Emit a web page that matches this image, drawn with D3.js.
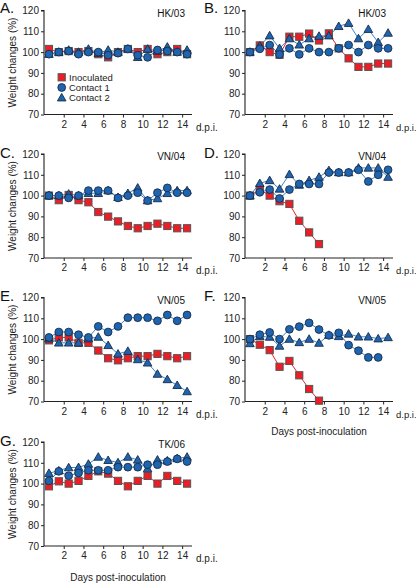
<!DOCTYPE html>
<html><head><meta charset="utf-8">
<script src="https://cdn.jsdelivr.net/npm/d3@7"></script>
<style>
html,body{margin:0;padding:0;background:#fff;}
svg{display:block;font-family:"Liberation Sans",Arial,sans-serif;}
</style></head>
<body><svg id="c" width="416" height="584"></svg>
<script>
const days = d3.range(15).map(i => i + 0.5);
const xTicks = [2,4,6,8,10,12,14];
const yTicks = [70,80,90,100,110,120];
const seriesNames = ["Inoculated","Contact 1","Contact 2"];
const panelLetters = ["A.","B.","C.","D.","E.","F.","G."];
const panelStrains = ["HK/03","HK/03","VN/04","VN/04","VN/05","VN/05","TK/06"];

const inocA = [101.5,100,100.5,100,100.5,99,97.5,100,101.5,100,101.5,99,100,101.5,99];
const c1A   = [99,100,100.5,99,100,100,98.5,99.5,101.5,98.5,97.5,101,100.5,100,99];
const c2A   = [99,100,101,100,101.5,99.5,101,100,101.5,97.5,101.5,100.5,102.5,100,101];

const inocB = [100,103.2,100,98.7,107.4,107.4,108.9,105.6,109,101.8,97,92.9,92.9,94.5,94.5];
const c1B   = [100,101.6,103.4,98.9,101.8,98.9,101.8,100,100,101.8,103.4,100,103.4,101.8,101.8];
const c2B   = [100,103,107.9,101.8,106.5,103.5,106.5,107.7,107.9,112.4,113.9,106.5,111,104.7,109.2];

const inocC = [100,97.8,100.3,97.8,96.8,92.1,89.9,87.6,85.4,84.3,85.4,86.5,85.4,84.3,84.3];
const c1C   = [100,100,98.9,100,102.4,102.4,102.4,98.9,100,101.4,97.6,101.4,103.7,101.4,101.4];
const c2C   = [100,100,100.8,100,101.1,101.1,102.4,99.2,101.1,103.7,97.6,98.6,101.1,102.4,102.4];

const inocD = [100,102.9,100,97.3,96,87.9,82.3,76.7];
const c1D   = [100,101.6,102.9,98.6,102.9,105.6,105.6,105.6,111.1,111.1,111.1,112.4,106.8,110,112.4];
const c2D   = [100,105.9,107.3,103.2,110.2,105.1,107.3,108.9,112.1,111.1,111.1,113.3,113.3,113.3,108.9];

const inocE = [99.4,100.8,100.8,98.2,98.2,94.5,90.8,89.8,90.8,91.8,91.8,92.9,91.8,90.8,91.8];
const c1E   = [100.8,103.4,103.4,102.1,100.8,106.1,103.4,106.1,110.3,110.3,110.3,108.8,111.6,108.8,111.6];
const c2E   = [100.2,98.2,98.2,98.2,100.2,101,97,92.9,94.2,90.2,88.6,83.2,80.6,77.8,74.8];

const inocF = [100,97.3,94.7,86.7,89.5,82.6,76,70.4];
const c1F   = [100,102.1,103.2,100,104.7,106,107.8,104.6,101.8,103,97.1,94.4,91.2,91.2];
const c2F   = [97.9,101.3,101,96.7,100,98.4,100,98.1,101.9,101.3,102.5,101.1,101.1,100.2,100.8];

const inocG = [98.7,101.1,100,101.3,103.7,105.9,104.8,101.3,98.7,101.3,103.7,100,103.7,101.3,100];
const c1G   = [101.3,105.9,103.8,105.1,106.4,106.4,106.4,107.9,107.9,107.9,109.1,109.1,110.6,111.9,110.6];
const c2G   = [105,106.2,107.7,107.8,109.4,112.8,111.2,110.1,112.8,111.4,107.2,111.4,111,112.1,112.8];

const panelData = [
  [inocA,c1A,c2A],[inocB,c1B,c2B],[inocC,c1C,c2C],[inocD,c1D,c2D],
  [inocE,c1E,c2E],[inocF,c1F,c2F],[inocG,c1G,c2G]
];

const svg = d3.select("#c");
const RED = "#ee1c25", REDLINE = "#e8232b", BLUE = "#1f64ae", BLUELINE = "#3b86c8";
const SQ_STROKE = "#555", BL_STROKE = "#1a2b47";

const colX = [[44,192],[245,393]];
const rowTop = [10.5,154,297.5,442];
const plotH = 104;

function marker(g, type, x, y){
  if(type===0){
    g.append("rect").attr("x",x-3.6).attr("y",y-3.6).attr("width",7.2).attr("height",7.2)
      .attr("fill",RED).attr("stroke",SQ_STROKE).attr("stroke-width",1);
  } else if(type===1){
    g.append("circle").attr("cx",x).attr("cy",y).attr("r",3.9)
      .attr("fill",BLUE).attr("stroke",BL_STROKE).attr("stroke-width",0.9);
  } else {
    const s=4.3;
    g.append("path").attr("d",`M${x},${y-s}L${x+s},${y+s*0.75}L${x-s},${y+s*0.75}Z`)
      .attr("fill",BLUE).attr("stroke",BL_STROKE).attr("stroke-width",0.9);
  }
}

panelData.forEach((series, p) => {
  const col = p % 2, row = Math.floor(p / 2);
  const [x0,x1] = colX[col];
  const yT = rowTop[row], yB = yT + plotH;
  const x = d3.scaleLinear().domain([0,15]).range([x0,x1]);
  const y = d3.scaleLinear().domain([70,120]).range([yB,yT]);
  const g = svg.append("g");

  const ya = g.append("g").attr("transform",`translate(${x0},0)`)
    .call(d3.axisLeft(y).tickValues(yTicks).tickSize(3).tickPadding(2));
  const xa = g.append("g").attr("transform",`translate(0,${yB})`)
    .call(d3.axisBottom(x).tickValues(xTicks).tickSize(3).tickPadding(3));
  [ya,xa].forEach(a=>{
    a.select(".domain").attr("stroke","#222").attr("stroke-width",1.1);
    a.selectAll(".tick line").attr("stroke","#222");
    a.selectAll("text").attr("font-size",10).attr("fill","#222")
      .attr("font-family","'Liberation Sans',Arial,sans-serif");
  });
  xa.select(".domain").attr("d",`M${x0},0H${x1}`);
  ya.select(".domain").attr("d",`M-3,${yT}H0V${yB}`);

  g.append("text").attr("x",col===0 ? x1+4 : 396).attr("y",yB+16)
    .attr("font-size",col===0?10:9.5).attr("fill","#222")
    .text("d.p.i.");

  g.append("text").attr("x",col===0?0:204).attr("y",yT+(row===0?2:3.5))
    .attr("font-size",15).attr("fill","#111").text(panelLetters[p]);
  g.append("text").attr("x",x1-7).attr("y",yT+6).attr("text-anchor","end")
    .attr("font-size",10).attr("fill","#111").text(panelStrains[p]);

  if(col===0){
    g.append("text").attr("transform",`translate(16,${(yT+yB)/2}) rotate(-90)`)
      .attr("text-anchor","middle").attr("font-size",10).attr("fill","#222")
      .text("Weight changes (%)");
  }

  const line = d3.line().x((d,i)=>x(days[i])).y(d=>y(d));
  [1,2,0].forEach(s=>{
    g.append("path").datum(series[s]).attr("d",line).attr("fill","none")
      .attr("stroke", s===0?REDLINE:BLUELINE).attr("stroke-width",1);
  });
  [0,2,1].forEach(s=>{
    series[s].forEach((v,i)=>marker(g,s,x(days[i]),y(v)));
  });
});

svg.append("text").attr("x",(colX[1][0]+colX[1][1])/2).attr("y",rowTop[2]+plotH+33)
  .attr("text-anchor","middle").attr("font-size",10).attr("fill","#222").text("Days post-inoculation");
svg.append("text").attr("x",(colX[0][0]+colX[0][1])/2).attr("y",rowTop[3]+plotH+35)
  .attr("text-anchor","middle").attr("font-size",10).attr("fill","#222").text("Days post-inoculation");

const lg = svg.append("g");
seriesNames.forEach((n,i)=>{
  const ly = 77.3 + i*10.2;
  marker(lg,i,61.7,ly);
  lg.append("text").attr("x",69).attr("y",ly+3.5).attr("font-size",9.5).attr("fill","#222").text(n);
});
</script></body></html>
